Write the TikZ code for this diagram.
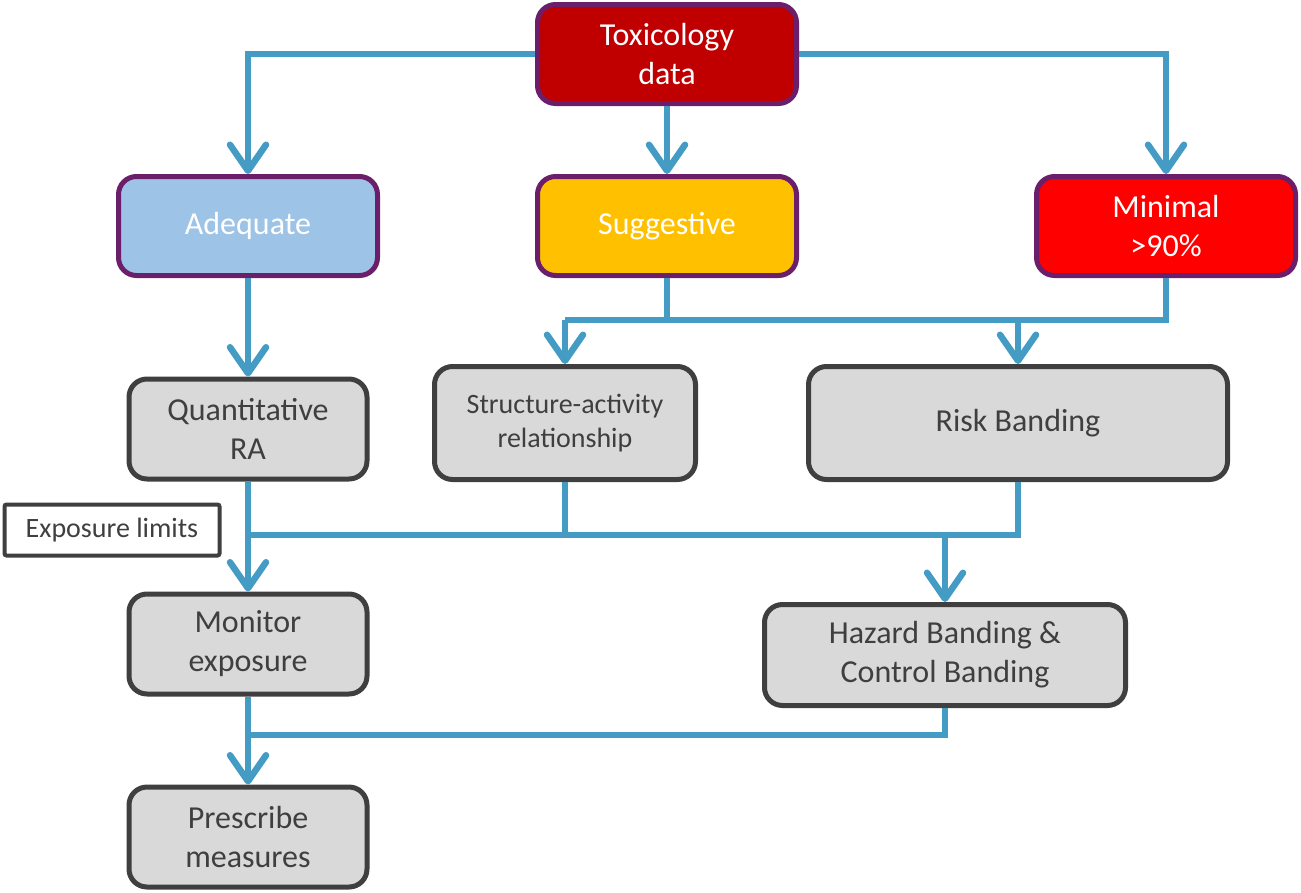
\documentclass[tikz,border=0pt]{standalone}
\usepackage{fontspec}
\setmainfont{Carlito}
\usetikzlibrary{arrows.meta}
\definecolor{flow}{HTML}{449BC3}
\definecolor{plum}{HTML}{6B1E69}
\definecolor{toxred}{HTML}{C00000}
\definecolor{adeqblue}{HTML}{9DC3E6}
\definecolor{suggold}{HTML}{FFC000}
\definecolor{minred}{HTML}{FF0000}
\definecolor{boxgray}{HTML}{D9D9D9}
\definecolor{edgegray}{HTML}{3F3F3F}

\begin{document}
\begin{tikzpicture}[x=1pt,y=-1pt,
  >={Straight Barb[length=26pt,width=36pt,round]},
  flow/.style={draw=flow,line width=6.5pt},
  databox/.style={draw=plum,line width=5pt,rounded corners=18pt,minimum width=259pt,minimum height=99pt,
    inner sep=0pt,align=center,text=white,font=\fontsize{32}{39}\selectfont},
  stepbox/.style={draw=edgegray,line width=5pt,rounded corners=18pt,fill=boxgray,minimum width=238pt,minimum height=100pt,
    inner sep=0pt,align=center,text=edgegray,font=\fontsize{32}{39}\selectfont}]
\useasboundingbox (0,0) rectangle (1301,892);

% evidence level
\node[databox,fill=toxred] (tox) at (667,54) {Toxicology\\data};
\node[databox,fill=adeqblue] (adeq) at (248,226) {Adequate};
\node[databox,fill=suggold] (sugg) at (667,226) {Suggestive};
\node[databox,fill=minred] (minimal) at (1166,226) {Minimal\\>90\%};

% assessment
\node[stepbox] (qra) at (248,429) {Quantitative\\RA};
\node[stepbox,minimum width=261pt,minimum height=113pt,font=\fontsize{28}{34}\selectfont] (sar) at (565,423) {Structure-activity\\relationship};
\node[stepbox,minimum width=419pt,minimum height=113pt] (risk) at (1018,423) {Risk Banding};
\node[draw=edgegray,line width=4pt,rounded corners=2pt,minimum width=215pt,minimum height=51pt,inner sep=0pt,
  text=edgegray,font=\fontsize{28}{30}\selectfont] (limits) at (112,530) {Exposure limits};

% control
\node[stepbox] (monitor) at (248,644) {Monitor\\exposure};
\node[stepbox,minimum width=361pt,minimum height=101pt] (hazard) at (945,655) {Hazard Banding \&\\Control Banding};
\node[stepbox] (prescribe) at (248,837) {Prescribe\\measures};

\coordinate (bus1) at (565,320);
\coordinate (bus2) at (1166,320);
\coordinate (bus3) at (248,535);
\coordinate (bus4) at (1018,535);
\coordinate (bus5) at (248,735);

\draw[flow,->] (tox.west) -| (adeq.north);
\draw[flow,->] (tox.east) -| (minimal.north);
\draw[flow,->] (tox.south) -- (sugg.north);

\draw[flow] (sugg.south) -- (sugg.south |- bus1);
\draw[flow] (minimal.south) -- (bus2) -- (bus1);
\draw[flow,->] (bus1) -- (sar.north);
\draw[flow,->] (bus2 -| risk.north) -- (risk.north);
\draw[flow,->] (adeq.south) -- (qra.north);

\draw[flow,->] (qra.south) -- (monitor.north);
\draw[flow] (sar.south) -- (sar.south |- bus3);
\draw[flow] (risk.south) -- (bus4) -- (bus3);
\draw[flow,->] (bus4 -| hazard.north) -- (hazard.north);

\draw[flow,->] (monitor.south) -- (prescribe.north);
\draw[flow] (hazard.south) |- (bus5);
\end{tikzpicture}
\end{document}
